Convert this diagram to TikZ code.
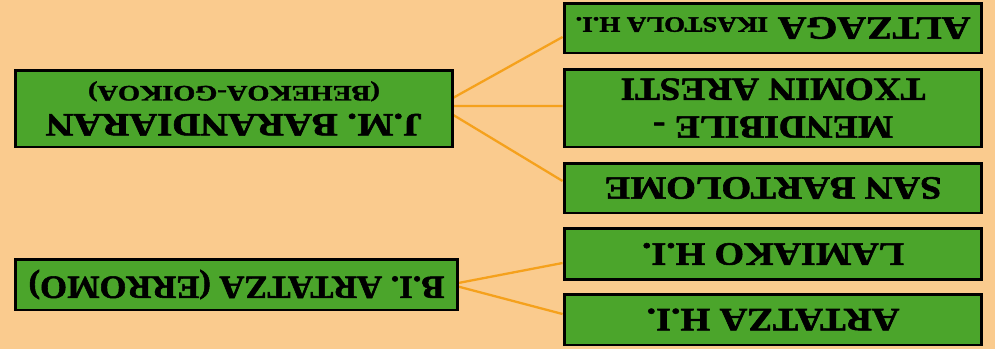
\documentclass[tikz,border=0pt]{standalone}
\usepackage{fontspec}
\setmainfont{Liberation Serif}[BoldFeatures={FakeBold=1.6}]
\usetikzlibrary{backgrounds}
\definecolor{bgpeach}{HTML}{FACB8E}
\definecolor{boxgreen}{HTML}{4BA52B}
\definecolor{linkorange}{HTML}{F5A11C}
\newlength\fitlen
\newcommand\fitto[2]{\settowidth\fitlen{#2}\pgfmathsetmacro\fitfac{#1*0.569055/\fitlen}\scalebox{\fitfac}[1]{#2}}
\newcommand\bigf{\fontsize{18.5}{21.5}\selectfont\bfseries}
\newcommand\smallf{\fontsize{12.5}{14}\selectfont\bfseries}
\begin{document}
\begin{tikzpicture}[x=0.02cm,y=-0.02cm,
  gbox/.style={draw=black, line width=1.7pt, fill=boxgreen, inner sep=0pt, anchor=center},
  wide/.style={minimum width=8.36cm},
  lbl/.style={rotate=180, align=center, inner sep=0pt, font=\bigf, anchor=center},
  linkline/.style={draw=linkorange, line width=1.3pt}]
\useasboundingbox (0,0) rectangle (995,349);
% boxes
\node[gbox, minimum width=8.76cm, minimum height=1.54cm] (jm) at (234,108.5) {};
\node[gbox, wide, minimum height=1.0cm] (altz) at (773,28) {};
\node[gbox, wide, minimum height=1.56cm] (mend) at (773,108) {};
\node[gbox, wide, minimum height=1.0cm] (san) at (773,188) {};
\node[gbox, minimum width=8.86cm, minimum height=1.02cm] (bi) at (236.5,284.5) {};
\node[gbox, wide, minimum height=1.02cm] (lam) at (773,254) {};
\node[gbox, wide, minimum height=1.02cm] (art) at (773,319.5) {};
% texts (printed upside down)
\node[lbl] (jmt) at (jm) {\fitto{377}{J.M. BARANDIARAN}\\[-5.5pt]{\smallf\fitto{292}{(BEHEKOA-GOIKOA)}}};
\node[lbl] (altzt) at (altz) {\fitto{395}{ALTZAGA {\smallf IKASTOLA H.I.}}};
\node[lbl] (mendt) at (mend) {\fitto{240}{MENDIBILE -}\\\fitto{305}{TXOMIN ARESTI}};
\node[lbl] (sant) at (san) {\fitto{337}{SAN BARTOLOME}};
\node[lbl] (bit) at (bi) {\fitto{416}{B.I. ARTATZA (ERROMO)}};
\node[lbl] (lamt) at (lam) {\fitto{262}{LAMIAKO H.I.}};
\node[lbl] (artt) at (art) {\fitto{253}{ARTATZA H.I.}};
% hubs
\coordinate (jmhub) at ([xshift=-0.32cm,yshift=0.05cm]jm.east);
\coordinate (bihub) at ([xshift=-0.18cm]bi.east);
\begin{pgfonlayer}{background}
\fill[bgpeach] (0,0) rectangle (995,349);
\draw[linkline] (jmhub) -- ([yshift=-0.18cm]altz.west);
\draw[linkline] (jmhub) -- ([yshift=0.04cm]mend.west);
\draw[linkline] (jmhub) -- ([yshift=0.14cm]san.west);
\draw[linkline] (bihub) -- ([yshift=-0.18cm]lam.west);
\draw[linkline] (bihub) -- ([yshift=0.11cm]art.west);
\end{pgfonlayer}
\end{tikzpicture}
\end{document}
